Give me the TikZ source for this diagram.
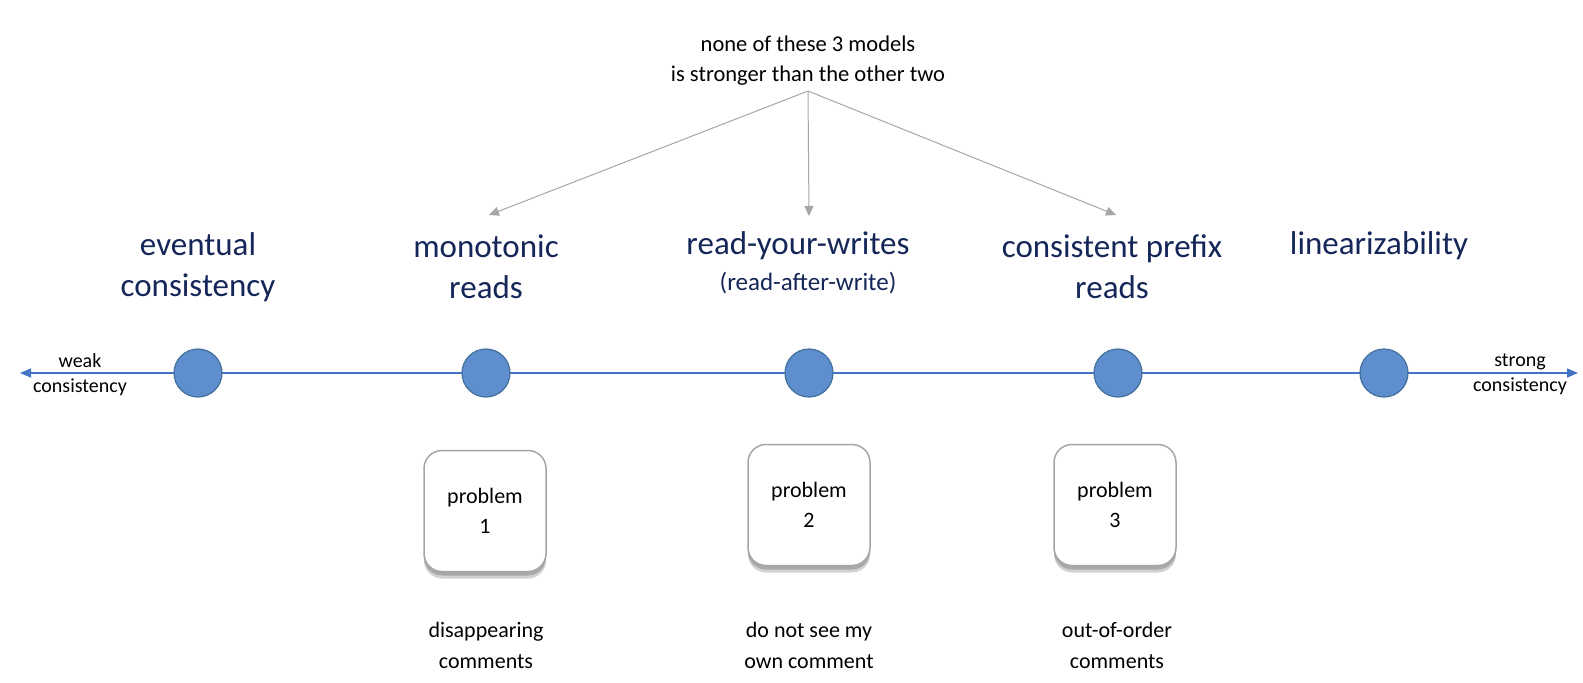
\documentclass[tikz,border=0pt]{standalone}
\usepackage{fontspec}
\setmainfont{Carlito}
\usetikzlibrary{shadows,arrows.meta}
\definecolor{navy}{HTML}{152659}
\definecolor{axisblue}{HTML}{4472C4}
\definecolor{dotfill}{HTML}{5F8ECE}
\definecolor{dotline}{HTML}{41719C}
\definecolor{arrgray}{HTML}{A6A6A6}
\begin{document}
\begin{tikzpicture}[x=1pt,y=-1pt,
  title/.style={text=navy,align=center,font=\fontsize{33}{41}\selectfont},
  subtitle/.style={text=navy,align=center,font=\fontsize{25}{30}\selectfont},
  plain/.style={text=black,align=center,font=\fontsize{22}{31}\selectfont},
  endlabel/.style={text=black,align=center,font=\fontsize{20}{25}\selectfont},
  dot/.style={circle,draw=dotline,line width=1.2pt,fill=dotfill,minimum size=48pt,inner sep=0pt},
  probbox/.style={draw=gray!70,line width=1.5pt,fill=white,rounded corners=18pt,minimum width=122pt,minimum height=121pt,align=center,font=\fontsize{22}{30}\selectfont,
    drop shadow={shadow xshift=0pt,shadow yshift=-7pt,opacity=0.25,fill=black!70},
    drop shadow={shadow xshift=0pt,shadow yshift=-4pt,opacity=0.3,fill=black!70}},
  axis/.style={draw=axisblue,line width=1.5pt,{Triangle[length=11pt,width=9pt]}-{Triangle[length=11pt,width=9pt]}},
  gray arrow/.style={draw=arrgray,line width=1pt,-{Triangle[length=10pt,width=9pt]}}
]
\useasboundingbox (0,0) rectangle (1583,683);
\fill[white] (0,0) rectangle (1583,683);

% axis
\coordinate (wl) at (20,373);
\coordinate (sr) at (1578,373);
\draw[axis] (wl) -- (sr);

\node[dot] (d1) at (198,373) {};
\node[dot] (d2) at (486,373) {};
\node[dot] (d3) at (809,373) {};
\node[dot] (d4) at (1118,373) {};
\node[dot] (d5) at (1384,373) {};

\node[endlabel] (weak) at (80,375) {weak\\consistency};
\node[endlabel] (strong) at (1520,374) {strong\\consistency};

% titles
\node[title] (t1) at (198,267) {eventual\\consistency};
\node[title] (t2) at (486,267) {monotonic\\reads};
\node[title] (t3) at (798,246) {read-your-writes};
\node[subtitle] (t3b) at (808,283) {(read-after-write)};
\node[title] (t4) at (1112,267) {consistent prefix\\reads};
\node[title] (t5) at (1379,246) {linearizability};

% top note
\node[plain,font=\fontsize{22.5}{30}\selectfont] (note) at (808,61) {none of these 3 models\\is stronger than the other two};
\coordinate (src) at (808,91);
\coordinate (a1) at (489,215);
\coordinate (a2) at (809,216);
\coordinate (a3) at (1116,215);
\draw[gray arrow] (src) -- (a1);
\draw[gray arrow] (src) -- (a2);
\draw[gray arrow] (src) -- (a3);

% problem boxes
\node[probbox] (p1) at (485,511) {problem\\1};
\node[probbox] (p2) at (809,505) {problem\\2};
\node[probbox] (p3) at (1115,505) {problem\\3};

\node[plain] (b1) at (486,645) {disappearing\\comments};
\node[plain] (b2) at (809,645) {do not see my\\own comment};
\node[plain] (b3) at (1117,645) {out-of-order\\comments};
\end{tikzpicture}
\end{document}
